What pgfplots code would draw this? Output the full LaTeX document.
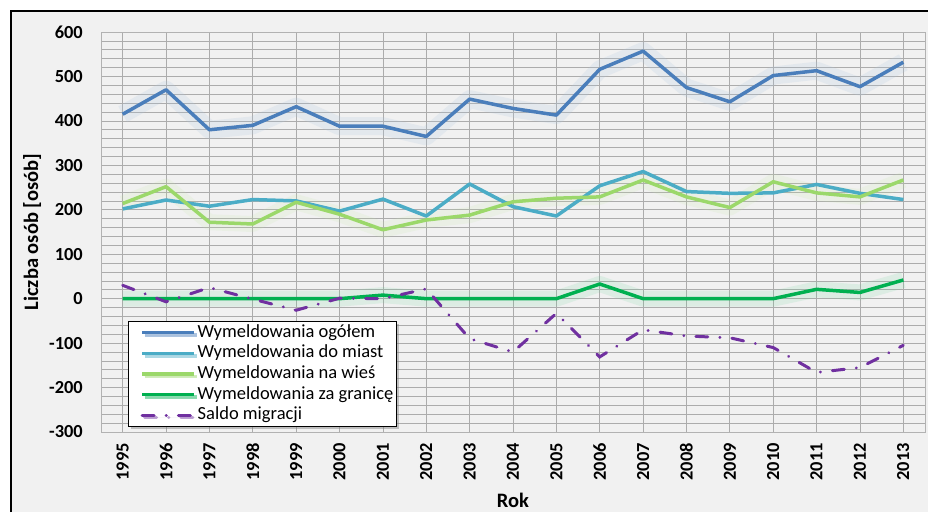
\documentclass[border=0pt]{standalone}
\usepackage{pgfplots}
\pgfplotsset{compat=1.18}
\usepackage{fontspec}
\setmainfont{Carlito}
\usetikzlibrary{shadows}
\definecolor{cBlue}{HTML}{4A7EBB}
\definecolor{cTeal}{HTML}{4BACC6}
\definecolor{cLGreen}{HTML}{9BD86A}
\definecolor{cDGreen}{HTML}{00B050}
\definecolor{cPurple}{HTML}{7030A0}
\definecolor{cBg}{HTML}{F1F1F1}
\begin{document}
\begin{tikzpicture}
\useasboundingbox (0,0) rectangle (928pt,512pt);
\fill[white] (0,0) rectangle (928pt,512pt);
\fill[cBg] (11pt,0) rectangle (928pt,501pt);
\draw[black, line width=1.5pt] (11pt,0) -- (11pt,501pt) -- (928pt,501pt);
\begin{axis}[
  at={(101pt,80pt)}, anchor=south west,
  scale only axis, width=824pt, height=400pt,
  xmin=1994.5, xmax=2013.5, ymin=-300, ymax=600,
  xtick={1995,...,2013}, ytick={-300,-200,...,600},
  minor x tick num=1, minor y tick num=4,
  grid=both,
  major grid style={gray!65, line width=0.6pt},
  minor grid style={gray!65, line width=0.6pt},
  axis line style={gray!60, line width=0.6pt},
  major tick length=0pt, minor tick length=0pt,
  /pgf/number format/.cd, 1000 sep={}, assume math mode=true,
  /pgfplots/.cd,
  ticklabel style={font=\fontsize{18.4}{20}\selectfont\bfseries},
  yticklabel style={inner sep=0pt, xshift=-18pt},
  xticklabel style={yshift=-11pt, rotate=90, anchor=east, inner sep=0pt},
  ylabel={Liczba osób [osób]},
  xlabel={Rok},
  label style={font=\fontsize{20.5}{22}\selectfont\bfseries},
  ylabel style={at={(axis description cs:-0.0837,0.5)}, anchor=center},
  xlabel style={at={(axis description cs:0.5,0)}, anchor=center, yshift=-68pt},
  legend style={at={(0.0328,0.2775)}, anchor=north west, fill=white, draw=black, line width=0.8pt,
    font=\fontsize{18.5}{20}\selectfont, inner sep=1pt, row sep=0pt,
    drop shadow={shadow xshift=2.5pt, shadow yshift=-2.5pt, opacity=0.45},
    nodes={inner sep=1.8pt, text height=13pt, text depth=4pt}},
  legend cell align=left,
  legend image code/.code={\path (0pt,0pt); \draw[#1] (11pt,0pt) -- (63pt,0pt);},
]
% glows
\addplot[forget plot, cBlue!45, opacity=0.2, line width=18pt, line join=round] coordinates {
(1995,415)(1996,470)(1997,380)(1998,390)(1999,432)(2000,388)(2001,388)(2002,365)(2003,449)(2004,428)(2005,413)(2006,516)(2007,557)(2008,475)(2009,443)(2010,502)(2011,513)(2012,477)(2013,532)};
\addplot[forget plot, cLGreen!60, opacity=0.15, line width=16pt, line join=round] coordinates {
(1995,214)(1996,252)(1997,172)(1998,168)(1999,217)(2000,190)(2001,155)(2002,177)(2003,188)(2004,218)(2005,226)(2006,229)(2007,267)(2008,229)(2009,205)(2010,263)(2011,238)(2012,229)(2013,267)};
\addplot[forget plot, cDGreen!60, opacity=0.15, line width=16pt, line join=round] coordinates {
(1995,0)(1996,0)(1997,0)(1998,0)(1999,0)(2000,0)(2001,8)(2002,0)(2003,0)(2004,0)(2005,0)(2006,33)(2007,0)(2008,0)(2009,0)(2010,0)(2011,21)(2012,14)(2013,42)};
% series
\addplot[cBlue, line width=3.5pt, line join=round] coordinates {
(1995,415)(1996,470)(1997,380)(1998,390)(1999,432)(2000,388)(2001,388)(2002,365)(2003,449)(2004,428)(2005,413)(2006,516)(2007,557)(2008,475)(2009,443)(2010,502)(2011,513)(2012,477)(2013,532)};
\addlegendentry{Wymeldowania ogółem}
\addplot[cTeal, line width=3.5pt, line join=round] coordinates {
(1995,202)(1996,222)(1997,208)(1998,223)(1999,220)(2000,197)(2001,224)(2002,186)(2003,258)(2004,207)(2005,186)(2006,254)(2007,286)(2008,241)(2009,237)(2010,238)(2011,257)(2012,237)(2013,223)};
\addlegendentry{Wymeldowania do miast}
\addplot[cLGreen, line width=3.5pt, line join=round] coordinates {
(1995,214)(1996,252)(1997,172)(1998,168)(1999,217)(2000,190)(2001,155)(2002,177)(2003,188)(2004,218)(2005,226)(2006,229)(2007,267)(2008,229)(2009,205)(2010,263)(2011,238)(2012,229)(2013,267)};
\addlegendentry{Wymeldowania na wieś}
\addplot[cDGreen, line width=3.5pt, line join=round] coordinates {
(1995,0)(1996,0)(1997,0)(1998,0)(1999,0)(2000,0)(2001,8)(2002,0)(2003,0)(2004,0)(2005,0)(2006,33)(2007,0)(2008,0)(2009,0)(2010,0)(2011,21)(2012,14)(2013,42)};
\addlegendentry{Wymeldowania za granicę}
\addplot[cPurple, line width=3pt, line cap=round, dash pattern=on 12pt off 12pt on 0.1pt off 12pt] coordinates {
(1995,30)(1996,-7)(1997,25)(1998,-1)(1999,-26)(2000,1)(2001,0)(2002,22)(2003,-90)(2004,-120)(2005,-33)(2006,-131)(2007,-70)(2008,-84)(2009,-88)(2010,-110)(2011,-166)(2012,-155)(2013,-105)};
\addlegendentry{Saldo migracji}
\end{axis}
\end{tikzpicture}
\end{document}
